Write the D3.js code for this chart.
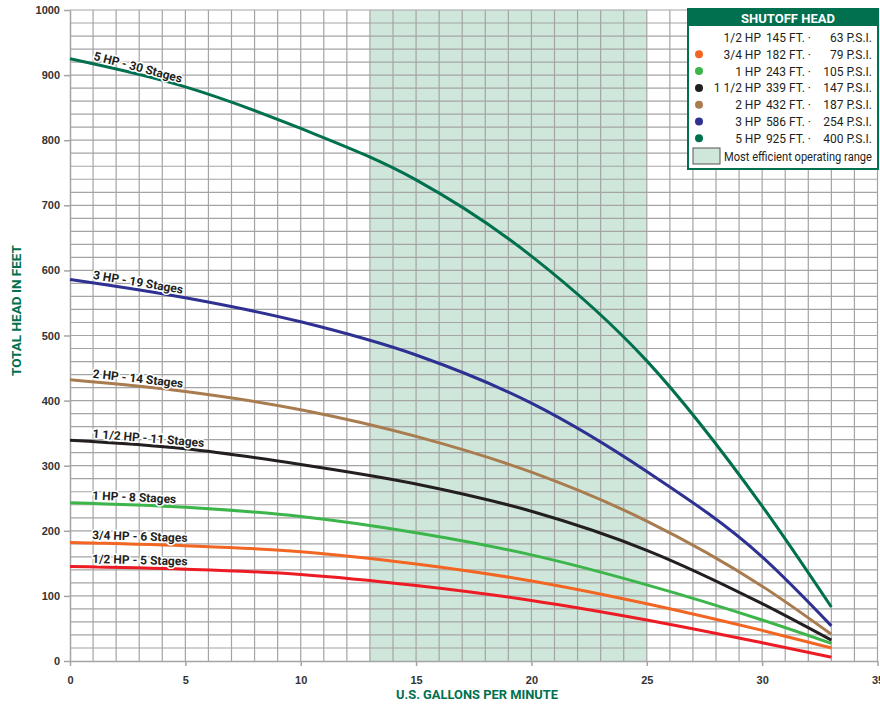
<!DOCTYPE html>
<html>
<head>
<meta charset="utf-8">
<script src="https://cdn.jsdelivr.net/npm/d3@7"></script>
<style>
  body { margin: 0; background: #fff; }
  svg text { font-family: Roboto, 'Liberation Sans', sans-serif; }
</style>
</head>
<body>
<svg id="chart" width="880" height="704"></svg>
<script>
// flow points (U.S. gallons per minute)
const gpm = [0, 5, 10, 15, 20, 25, 30, 33];

const pumps = ['1/2 HP', '3/4 HP', '1 HP', '1 1/2 HP', '2 HP', '3 HP', '5 HP'];
const stages = [5, 6, 8, 11, 14, 19, 30];
const shutoffFt = [145, 182, 243, 339, 432, 586, 925];
const shutoffPsi = [63, 79, 105, 147, 187, 254, 400];

// total head in feet at each gpm value, one row per pump
const head = [
  [145, 141, 133, 116, 93, 63, 28, 6],
  [182, 177, 168, 149, 123, 88, 47, 20],
  [243, 236, 222, 197, 163, 117, 63, 27],
  [339, 326, 302, 272, 230, 170, 88, 32],
  [432, 414, 386, 345, 290, 215, 115, 41],
  [586, 558, 521, 470, 396, 291, 160, 54],
  [925, 882, 818, 739, 622, 461, 238, 83]
];

const colors = ['#ed1c24', '#f26522', '#3cb54a', '#231f20', '#a97c50', '#2e3192', '#00704f'];

const efficientRange = [13, 25];
const xTicks = [0, 5, 10, 15, 20, 25, 30, 35];
const yTicks = [0, 100, 200, 300, 400, 500, 600, 700, 800, 900, 1000];

const green = '#00704f';
const gridColor = '#a4a4a4';

const svg = d3.select('#chart');

const x = d3.scaleLinear().domain([0, 35]).range([70, 877.5]);
const y = d3.scaleLinear().domain([0, 1000]).range([661, 10]);

// efficient operating band
svg.append('rect')
  .attr('x', x(efficientRange[0]))
  .attr('y', y(1000))
  .attr('width', x(efficientRange[1]) - x(efficientRange[0]))
  .attr('height', y(0) - y(1000))
  .style('fill', '#cfe7da');

// grid, every gallon and every 20 ft
const grid = svg.append('g').attr('class', 'grid');
grid.selectAll('line.v')
  .data(d3.range(1, 36))
  .enter()
  .append('line')
  .attr('x1', d => x(d))
  .attr('x2', d => x(d))
  .attr('y1', y(0))
  .attr('y2', y(1000))
  .style('stroke', gridColor)
  .style('stroke-width', 1.2);
grid.selectAll('line.h')
  .data(d3.range(20, 1001, 20))
  .enter()
  .append('line')
  .attr('x1', x(0))
  .attr('x2', x(35))
  .attr('y1', d => y(d))
  .attr('y2', d => y(d))
  .style('stroke', gridColor)
  .style('stroke-width', 1.2);

// axes
const styleAxis = g => {
  g.select('.domain').style('stroke', gridColor).style('stroke-width', 1.5);
  g.selectAll('.tick line').style('stroke', gridColor).style('stroke-width', 1.5);
  g.selectAll('.tick text')
    .style('font-family', "'Liberation Sans', Arial, sans-serif")
    .style('font-size', '11px')
    .style('font-weight', 'bold')
    .style('fill', '#333');
};

svg.append('g')
  .attr('transform', `translate(${x(0)},0)`)
  .call(d3.axisLeft(y).tickValues(yTicks).tickFormat(d3.format('d'))
    .tickSize(6).tickPadding(4).tickSizeOuter(0))
  .call(styleAxis);

svg.append('g')
  .attr('transform', `translate(0,${y(0)})`)
  .call(d3.axisBottom(x).tickValues(xTicks).tickSize(5).tickPadding(10).tickSizeOuter(0))
  .call(styleAxis);

// pump curves
const line = d3.line()
  .x((d, i) => x(gpm[i]))
  .y(d => y(d))
  .curve(d3.curveMonotoneX);

const paths = svg.append('g')
  .selectAll('path')
  .data(head)
  .enter()
  .append('path')
  .attr('d', line)
  .style('fill', 'none')
  .style('stroke', (d, i) => colors[i])
  .style('stroke-width', 3);

// find the point of a path at a given pixel x
const pointAtX = (node, px) => {
  let lo = 0;
  let hi = node.getTotalLength();
  for (let k = 0; k < 30; k++) {
    const mid = (lo + hi) / 2;
    if (node.getPointAtLength(mid).x < px) lo = mid;
    else hi = mid;
  }
  return node.getPointAtLength(lo);
};

paths.each(function(d, i) {
  const p1 = pointAtX(this, x(0.95));
  const p2 = pointAtX(this, x(6));
  const ang = Math.atan2(p2.y - p1.y, p2.x - p1.x) * 180 / Math.PI;
  svg.append('text')
    .attr('transform', `translate(${p1.x},${p1.y}) rotate(${ang})`)
    .attr('y', -4)
    .text(`${pumps[i]} - ${stages[i]} Stages`)
    .style('font-size', '12px')
    .style('font-weight', 'bold')
    .style('fill', '#231f20')
    .style('stroke', '#fff')
    .style('stroke-width', 3)
    .style('paint-order', 'stroke');
});

// axis titles
svg.append('text')
  .attr('transform', `translate(21,${(y(0) + y(1000)) / 2 - 25}) rotate(-90)`)
  .attr('text-anchor', 'middle')
  .attr('textLength', 131)
  .attr('lengthAdjust', 'spacingAndGlyphs')
  .text('TOTAL HEAD IN FEET')
  .style('font-size', '13px')
  .style('font-weight', 'bold')
  .style('fill', green);

svg.append('text')
  .attr('x', 477)
  .attr('y', 699)
  .attr('text-anchor', 'middle')
  .attr('textLength', 162)
  .attr('lengthAdjust', 'spacingAndGlyphs')
  .text('U.S. GALLONS PER MINUTE')
  .style('font-size', '13px')
  .style('font-weight', 'bold')
  .style('fill', green);

// legend
const legend = svg.append('g').attr('transform', 'translate(688,9)');
legend.append('rect')
  .attr('width', 190)
  .attr('height', 160)
  .style('fill', '#fff')
  .style('stroke', green)
  .style('stroke-width', 2);
legend.append('rect')
  .attr('width', 190)
  .attr('height', 17)
  .style('fill', green);
legend.append('text')
  .attr('x', 100)
  .attr('y', 14)
  .attr('text-anchor', 'middle')
  .text('SHUTOFF HEAD')
  .style('font-size', '13px')
  .style('font-weight', 'bold')
  .style('fill', '#fff');

const rows = legend.selectAll('g.row')
  .data(pumps)
  .enter()
  .append('g')
  .attr('transform', (d, i) => `translate(0,${28.5 + i * 16.8})`);

// the 1/2 HP row has no marker in the original key
rows.filter((d, i) => i > 0)
  .append('circle')
  .attr('cx', 11)
  .attr('cy', 0)
  .attr('r', 4)
  .style('fill', (d, i) => colors[i + 1]);

rows.append('text')
  .attr('x', 73)
  .attr('y', 4.5)
  .attr('text-anchor', 'end')
  .text(d => d);
rows.append('text')
  .attr('x', 123)
  .attr('y', 4.5)
  .attr('text-anchor', 'end')
  .text((d, i) => `${shutoffFt[i]} FT. \u00b7`);
rows.append('text')
  .attr('x', 184)
  .attr('y', 4.5)
  .attr('text-anchor', 'end')
  .text((d, i) => `${shutoffPsi[i]} P.S.I.`);
rows.selectAll('text')
  .style('font-size', '12px')
  .style('fill', '#231f20');

legend.append('rect')
  .attr('x', 5)
  .attr('y', 139)
  .attr('width', 27)
  .attr('height', 16)
  .style('fill', '#cfe7da')
  .style('stroke', '#555')
  .style('stroke-width', 1);
legend.append('text')
  .attr('x', 36)
  .attr('y', 152)
  .attr('textLength', 148)
  .attr('lengthAdjust', 'spacingAndGlyphs')
  .text('Most efficient operating range')
  .style('font-size', '12px')
  .style('fill', '#231f20');
</script>
</body>
</html>
